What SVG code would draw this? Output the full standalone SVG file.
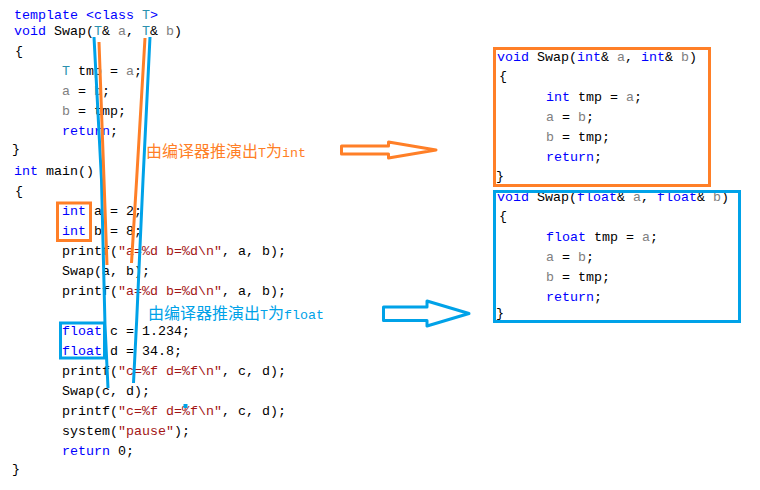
<svg xmlns="http://www.w3.org/2000/svg" width="760" height="490" viewBox="0 0 760 490">
<style>
.c{font-family:"Liberation Mono","Noto Sans CJK SC",monospace;font-size:13.33px;fill:#000}
.k{fill:#0000FF}.t{fill:#2B91AF}.g{fill:#808080}.s{fill:#A31515}
.cj{font-family:"Noto Sans CJK SC",sans-serif;font-size:16px}
.lm{font-family:"Liberation Mono",monospace;font-size:13.33px}
.or{fill:#FF7F27}.bl{fill:#00A2E8}
.box{fill:none;stroke-width:3}
.ob{stroke:#FF7F27}.bb{stroke:#00A2E8}
.ln{fill:none;stroke-width:3;stroke-linejoin:round}
</style>
<rect width="760" height="490" fill="#fff"/>
<g id="template-source" xml:space="preserve">
<text class="c" x="14" y="18.5"><tspan class="k">template &lt;class </tspan><tspan class="t">T</tspan><tspan class="k">&gt;</tspan></text>
<text class="c" x="14" y="35"><tspan class="k">void</tspan> Swap(<tspan class="t">T</tspan>&amp; <tspan class="g">a</tspan>, <tspan class="t">T</tspan>&amp; <tspan class="g">b</tspan>)</text>
<text class="c" x="15" y="55">{</text>
<text class="c" x="62" y="75"><tspan class="t">T</tspan> tmp = <tspan class="g">a</tspan>;</text>
<text class="c" x="62" y="95"><tspan class="g">a</tspan> = <tspan class="g">b</tspan>;</text>
<text class="c" x="62" y="115"><tspan class="g">b</tspan> = tmp;</text>
<text class="c" x="62" y="135"><tspan class="k">return</tspan>;</text>
<text class="c" x="12" y="153">}</text>
<text class="c" x="14" y="175"><tspan class="k">int</tspan> main()</text>
<text class="c" x="15" y="195">{</text>
<text class="c" x="62" y="215"><tspan class="k">int</tspan> a = 2;</text>
<text class="c" x="62" y="235"><tspan class="k">int</tspan> b = 8;</text>
<text class="c" x="62" y="255">printf(<tspan class="s">"a=%d b=%d\n"</tspan>, a, b);</text>
<text class="c" x="62" y="275">Swap(a, b);</text>
<text class="c" x="62" y="295">printf(<tspan class="s">"a=%d b=%d\n"</tspan>, a, b);</text>
<text class="c" x="62" y="335"><tspan class="k">float</tspan> c = 1.234;</text>
<text class="c" x="62" y="355"><tspan class="k">float</tspan> d = 34.8;</text>
<text class="c" x="62" y="375">printf(<tspan class="s">"c=%f d=%f\n"</tspan>, c, d);</text>
<text class="c" x="62" y="395">Swap(c, d);</text>
<text class="c" x="62" y="415">printf(<tspan class="s">"c=%f d=%f\n"</tspan>, c, d);</text>
<text class="c" x="62" y="435">system(<tspan class="s">"pause"</tspan>);</text>
<text class="c" x="62" y="455"><tspan class="k">return</tspan> 0;</text>
<text class="c" x="12" y="473">}</text>
</g>
<g id="int-highlight"><rect class="box ob" x="57.5" y="203" width="33" height="37.5"/></g>
<g id="float-highlight"><rect class="box bb" x="60.5" y="323" width="44" height="35"/></g>
<g id="label-int"><text y="156.5" class="or"><tspan class="cj" x="146">由编译器推演出</tspan><tspan class="lm">T</tspan><tspan class="cj">为</tspan><tspan class="lm">int</tspan></text></g>
<g id="label-float"><text y="318.5" class="bl"><tspan class="cj" x="148">由编译器推演出</tspan><tspan class="lm">T</tspan><tspan class="cj">为</tspan><tspan class="lm">float</tspan></text></g>
<g id="swap-int" xml:space="preserve">
<text class="c" x="497" y="60.5"><tspan class="k">void</tspan> Swap(<tspan class="k">int</tspan>&amp; <tspan class="g">a</tspan>, <tspan class="k">int</tspan>&amp; <tspan class="g">b</tspan>)</text>
<text class="c" x="499" y="80">{</text>
<text class="c" x="546" y="100.5"><tspan class="k">int</tspan> tmp = <tspan class="g">a</tspan>;</text>
<text class="c" x="546" y="121"><tspan class="g">a</tspan> = <tspan class="g">b</tspan>;</text>
<text class="c" x="546" y="141"><tspan class="g">b</tspan> = tmp;</text>
<text class="c" x="546" y="161"><tspan class="k">return</tspan>;</text>
<text class="c" x="496" y="180">}</text>
<rect class="box ob" x="494.5" y="48.5" width="215" height="137"/>
</g>
<g id="swap-float" xml:space="preserve">
<text class="c" x="497" y="200.5"><tspan class="k">void</tspan> Swap(<tspan class="k">float</tspan>&amp; <tspan class="g">a</tspan>, <tspan class="k">float</tspan>&amp; <tspan class="g">b</tspan>)</text>
<text class="c" x="499" y="220">{</text>
<text class="c" x="546" y="240.5"><tspan class="k">float</tspan> tmp = <tspan class="g">a</tspan>;</text>
<text class="c" x="546" y="261"><tspan class="g">a</tspan> = <tspan class="g">b</tspan>;</text>
<text class="c" x="546" y="281"><tspan class="g">b</tspan> = tmp;</text>
<text class="c" x="546" y="301"><tspan class="k">return</tspan>;</text>
<text class="c" x="496" y="317">}</text>
<rect class="box bb" x="494.5" y="191.5" width="245" height="130"/>
</g>
<g id="connectors">
<polyline class="ln bb" points="94,37 101.5,180 105,325 108,388"/>
<polyline class="ln ob" points="99,42 104,180 107,265"/>
<polyline class="ln ob" points="145,38 136.6,180 131.5,263"/>
<polyline class="ln bb" points="150,37 143,180 136.7,320 133.5,383"/>
<rect x="183.5" y="404" width="4" height="4" fill="#00A2E8"/>
<polygon class="ln ob" points="341.5,146 388.5,146 388.5,142 436,150 388.5,158 388.5,154 341.5,154"/>
<polygon class="ln bb" points="383.5,307 427,307 427,301 469,313.5 427,326 427,320.5 383.5,320.5"/>
</g>
</svg>
